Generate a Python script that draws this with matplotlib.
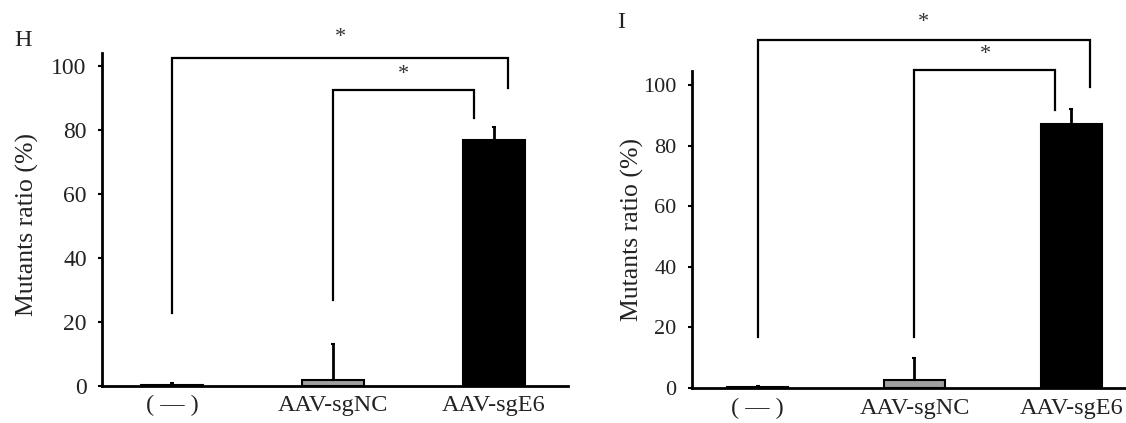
import matplotlib
matplotlib.use("Agg")
import matplotlib.pyplot as plt
import numpy as np

plt.rcParams['font.family'] = ['Liberation Serif', 'DejaVu Serif']

categories = ["( — )", "AAV-sgNC", "AAV-sgE6"]
h_means = [0.2, 1.8, 77.1]
h_err = [0.5, 11.2, 4.0]
i_means = [0.3, 2.7, 87.0]
i_err = [0.5, 7.1, 4.9]
bar_colors = ["#a0a0a0", "#a0a0a0", "#000000"]

# significance brackets: (x_left, x_right, y_top, left_bottom, right_bottom)
h_brackets = [(0, 2.09, 102.7, 22.7, 93.3), (1, 1.875, 92.6, 26.8, 83.9)]
h_star_y = [109.2, 97.6]
i_brackets = [(0, 2.12, 114.9, 16.8, 99.3), (1, 1.90, 105.0, 16.8, 91.7)]
i_star_y = [120.5, 110.0]

W, H = 1126, 423
fig = plt.figure(figsize=(W / 100, H / 100), dpi=100)

def make_axes(rect, ytop, means, err, brackets, star_y, xlim, label_x, label_y,
              ytick_size, panel, panel_xy):
    ax = fig.add_axes(rect)
    x = np.arange(len(categories))
    ax.bar(x, means, width=0.39, color=bar_colors, edgecolor="black", linewidth=1.5, zorder=2)
    ax.errorbar(x, means, yerr=[np.zeros(len(err)), err], fmt="none", ecolor="black",
                elinewidth=2, capsize=1.2, capthick=1.5, zorder=3)
    ax.set_xlim(*xlim)
    ax.set_ylim(0, ytop)
    ax.set_yticks([0, 20, 40, 60, 80, 100])
    ax.set_xticks(x)
    ax.set_xticklabels(categories)
    ax.tick_params(axis="x", length=0, labelsize=17.5, pad=7, labelcolor="#222222")
    ax.tick_params(axis="y", length=3, width=1.5, labelsize=ytick_size, pad=8, direction="out",
                   labelcolor="#222222", color="black")
    for s in ["top", "right"]:
        ax.spines[s].set_visible(False)
    for s in ["left", "bottom"]:
        ax.spines[s].set_linewidth(2)
    ax.set_ylabel("Mutants ratio (%)", fontsize=18.5, color="#222222")
    ax.yaxis.set_label_coords(label_x, label_y)
    for (xl, xr, yt, lb, rb), sy in zip(brackets, star_y):
        ax.plot([xl, xl, xr, xr], [lb, yt, yt, rb], color="black", lw=1.6, clip_on=False,
                solid_joinstyle="miter", zorder=4)
        ax.text((xl + xr) / 2, sy, "*", ha="center", va="center", fontsize=16, color="#333333",
                clip_on=False)
    fig.text(panel_xy[0] / W, 1 - panel_xy[1] / H, panel, fontsize=17.5, color="#222222",
             ha="center", va="center")
    return ax

# left panel: zero at y=385.5 px, 3.19 px per unit
make_axes([102 / W, 37.5 / H, 466 / W, 332.4 / H], 104.2, h_means, h_err, h_brackets, h_star_y,
          (-0.435, 2.46), -0.135, 0.485, 17, "H", (23, 41))
# right panel: zero at y=388 px, 3.03 px per unit
make_axes([692 / W, 35 / H, 434 / W, 317 / H], 104.6, i_means, i_err, i_brackets, i_star_y,
          (-0.42, 2.35), -0.11, 0.50, 16, "I", (621, 23))

fig.savefig("out.png", dpi=100)
